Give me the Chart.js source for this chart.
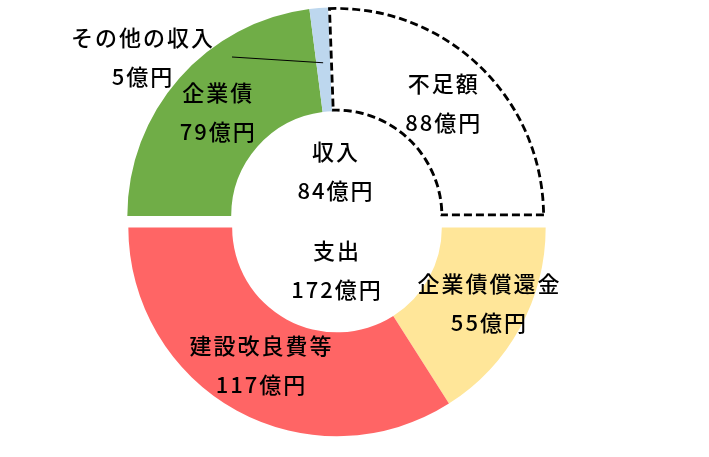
<!DOCTYPE html>
<html lang="ja">
<head>
<meta charset="utf-8">
<script src="https://cdn.jsdelivr.net/npm/chart.js@4"></script>
<style>
  body { margin: 0; background: #fff; }
  #wrap { position: relative; width: 709px; height: 457px; }
  .box { position: absolute; left: 0; top: 0; width: 709px; height: 457px; }
</style>
</head>
<body>
<div id="wrap">
  <div class="box"><canvas id="incomeChart"></canvas></div>
  <div class="box"><canvas id="spendChart"></canvas></div>
</div>
<script>
// 収入 (upper half, clockwise from 9 o'clock)
const incomeLabels = ["企業債", "その他の収入", "不足額"];
const incomeValues = [79, 5, 88];
const incomeColors = ["#70AD47", "#BDD7EE", "#FFFFFF"];

// 支出 (lower half, clockwise from 3 o'clock)
const spendLabels = ["企業債償還金", "建設改良費等"];
const spendValues = [55, 117];
const spendColors = ["#FFE699", "#FF6565"];

const incomeTitle = ["収入", "84億円"];
const spendTitle = ["支出", "172億円"];

const FONT = '500 22px "Noto Sans CJK JP", "Noto Sans", sans-serif';
const LINE = 39;

function drawLines(ctx, lines, x, y) {
  const top = y - (lines.length - 1) * LINE / 2;
  lines.forEach((t, i) => ctx.fillText(t, x, top + i * LINE));
}

// labels at each slice's center point, plus the hole title
const labelPlugin = {
  id: "sliceLabels",
  afterDatasetsDraw(chart, args, opts) {
    const ctx = chart.ctx;
    const meta = chart.getDatasetMeta(0);
    const values = chart.data.datasets[0].data;
    ctx.save();
    ctx.font = FONT;
    ctx.letterSpacing = "2px";
    ctx.fillStyle = "#000";
    ctx.textAlign = "center";
    ctx.textBaseline = "middle";
    meta.data.forEach((arc, i) => {
      const p = arc.getCenterPoint();
      const lines = [chart.data.labels[i], values[i] + "億円"];
      const o = opts.shift[i];
      if (o === "leader") {
        // callout outside the ring with a thin leader line
        const [lx, ly] = opts.leaderAt;
        ctx.strokeStyle = "#000";
        ctx.lineWidth = 1;
        ctx.beginPath();
        ctx.moveTo(232, ly);
        ctx.lineTo(p.x, p.y + 3);
        ctx.stroke();
        drawLines(ctx, lines, lx, ly);
        return;
      }
      drawLines(ctx, lines, p.x + o[0], p.y + o[1]);
    });
    const a = meta.data[0];
    drawLines(ctx, opts.title, a.x, a.y + opts.titleDy);
    ctx.restore();
  }
};

function halfDoughnut(id, labels, values, colors, rotation, extra) {
  return new Chart(document.getElementById(id), {
    type: "doughnut",
    data: {
      labels: labels,
      datasets: [{
        data: values,
        backgroundColor: colors,
        borderColor: extra.borderColor,
        borderWidth: extra.borderWidth,
        borderDash: extra.borderDash,
        borderAlign: "inner",
        borderJoinStyle: "miter"
      }]
    },
    options: {
      responsive: true,
      maintainAspectRatio: false,
      animation: false,
      rotation: rotation,
      circumference: 180,
      cutout: "50%",
      layout: { padding: extra.padding },
      plugins: {
        legend: { display: false },
        tooltip: { enabled: false },
        sliceLabels: extra.labels
      }
    },
    plugins: [labelPlugin]
  });
}

// upper: the shortfall slice is white with a dashed black outline
halfDoughnut("incomeChart", incomeLabels, incomeValues, incomeColors, -90, {
  borderColor: ["#70AD47", "#BDD7EE", "#000"],
  borderWidth: [0, 0, 2.5],
  borderDash: [8, 4],
  padding: { left: 127, right: 164, top: 6, bottom: 240 },
  labels: {
    title: incomeTitle,
    titleDy: -45,
    shift: [[0, 0], "leader", [-1, 0]],
    leaderAt: [143, 57]
  }
});

halfDoughnut("spendChart", spendLabels, spendValues, spendColors, 90, {
  borderColor: spendColors,
  borderWidth: 0,
  borderDash: [],
  padding: { left: 128, right: 163, top: 227, bottom: 20 },
  labels: {
    title: spendTitle,
    titleDy: 43,
    shift: [[15, 0], [0, 0]]
  }
});
</script>
</body>
</html>
